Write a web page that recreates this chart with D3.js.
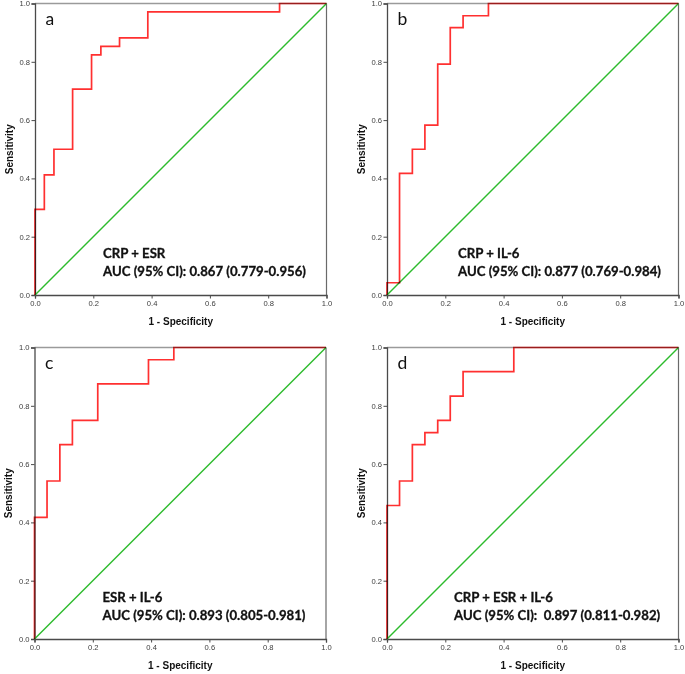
<!DOCTYPE html>
<html>
<head>
<meta charset="utf-8">
<script src="https://cdn.jsdelivr.net/npm/d3@7"></script>
<style>
  html, body { margin: 0; padding: 0; background: #fff; }
  svg { display: block; }
</style>
</head>
<body>
<svg id="chart" width="685" height="674"></svg>
<script>
// ---- Data ----
const panelIds = ["a", "b", "c", "d"];
const markers = ["CRP + ESR", "CRP + IL-6", "ESR + IL-6", "CRP + ESR + IL-6"];
const aucTexts = [
  "AUC (95% CI): 0.867 (0.779-0.956)",
  "AUC (95% CI): 0.877 (0.769-0.984)",
  "AUC (95% CI): 0.893 (0.805-0.981)",
  "AUC (95% CI):  0.897 (0.811-0.982)"
];
const tickValues = [0, 0.2, 0.4, 0.6, 0.8, 1.0];
const xTitle = "1 - Specificity";
const yTitle = "Sensitivity";

// ROC step points: 1 - specificity (fpr) and sensitivity (tpr)
const fprA = [0, 0, 0.032, 0.032, 0.065, 0.065, 0.129, 0.129, 0.194, 0.194, 0.226, 0.226, 0.290, 0.290, 0.387, 0.387, 0.839, 0.839, 1];
const tprA = [0, 0.294, 0.294, 0.412, 0.412, 0.5, 0.5, 0.706, 0.706, 0.824, 0.824, 0.853, 0.853, 0.882, 0.882, 0.971, 0.971, 1, 1];

const fprB = [0, 0, 0.043, 0.043, 0.087, 0.087, 0.130, 0.130, 0.174, 0.174, 0.217, 0.217, 0.261, 0.261, 0.348, 0.348, 1];
const tprB = [0, 0.042, 0.042, 0.417, 0.417, 0.5, 0.5, 0.583, 0.583, 0.792, 0.792, 0.917, 0.917, 0.958, 0.958, 1, 1];

const fprC = [0, 0, 0.043, 0.043, 0.087, 0.087, 0.130, 0.130, 0.217, 0.217, 0.391, 0.391, 0.478, 0.478, 1];
const tprC = [0, 0.417, 0.417, 0.542, 0.542, 0.667, 0.667, 0.750, 0.750, 0.875, 0.875, 0.958, 0.958, 1, 1];

const fprD = [0, 0, 0.043, 0.043, 0.087, 0.087, 0.130, 0.130, 0.174, 0.174, 0.217, 0.217, 0.261, 0.261, 0.435, 0.435, 1];
const tprD = [0, 0.458, 0.458, 0.542, 0.542, 0.667, 0.667, 0.708, 0.708, 0.750, 0.750, 0.833, 0.833, 0.917, 0.917, 1, 1];

const refFpr = [0, 1];
const refTpr = [0, 1];

const curves = [[fprA, tprA], [fprB, tprB], [fprC, tprC], [fprD, tprD]];

// ---- Layout ----
const svg = d3.select("#chart");
const W = 291.5, H = 291.5;
const origins = [[35, 3.5], [387, 3.5], [34.5, 347.5], [387, 347.5]];

const red = "#ff3030";
const green = "#2dbb2d";
const axisColor = "#4a4a4a";
const tickFont = "'Liberation Sans', Arial, sans-serif";
const annFont = "Lato, 'Open Sans', sans-serif";

panelIds.forEach((id, i) => {
  const [ox, oy] = origins[i];
  const g = svg.append("g").attr("transform", `translate(${ox},${oy})`);
  const x = d3.scaleLinear().domain([0, 1]).range([0, W]);
  const y = d3.scaleLinear().domain([0, 1]).range([H, 0]);

  // frame (top and right)
  g.append("line").attr("x1", 0).attr("x2", W).attr("y1", 0).attr("y2", 0)
    .attr("stroke", "#9a9a9a").attr("stroke-width", 1.3);
  g.append("line").attr("x1", W).attr("x2", W).attr("y1", 0).attr("y2", H)
    .attr("stroke", "#6a6a6a").attr("stroke-width", 1.2);

  // axes
  const xAxis = d3.axisBottom(x).tickValues(tickValues).tickFormat(d3.format(".1f")).tickSize(3.5).tickPadding(2);
  const yAxis = d3.axisLeft(y).tickValues(tickValues).tickFormat(d3.format(".1f")).tickSize(3.5).tickPadding(1.5);
  const gx = g.append("g").attr("transform", `translate(0,${H})`).call(xAxis);
  const gy = g.append("g").call(yAxis);
  [gx, gy].forEach(ax => {
    ax.select(".domain").attr("stroke", axisColor).attr("stroke-width", 1.3);
    ax.selectAll(".tick line").attr("stroke", axisColor).attr("stroke-width", 1);
    ax.selectAll(".tick text").attr("fill", "#3c3c3c").style("font-family", tickFont).style("font-size", "7.6px");
  });

  // reference diagonal
  const line = d3.line().x(d => x(d[0])).y(d => y(d[1]));
  g.append("path").datum(refFpr.map((v, k) => [v, refTpr[k]]))
    .attr("d", line).attr("fill", "none").attr("stroke", green).attr("stroke-width", 1.4);

  // ROC curve
  const [fpr, tpr] = curves[i];
  g.append("path").datum(fpr.map((v, k) => [v, tpr[k]]))
    .attr("d", line).attr("fill", "none").attr("stroke", red).attr("stroke-width", 1.7)
    .style("mix-blend-mode", "multiply");

  // panel letter
  g.append("text").attr("x", 10.5).attr("y", 21.5).text(id)
    .style("font-family", annFont).style("font-size", "17.5px").attr("fill", "#111");

  // annotation
  const ann = g.append("text").style("font-family", annFont).style("font-weight", "bold")
    .style("font-size", "13.2px").attr("fill", "#111")
    .attr("stroke", "#111").attr("stroke-width", 0.3);
  const tx = [68, 71, 68, 67][i];
  ann.append("tspan").attr("x", tx).attr("y", 254).text(markers[i]);
  ann.append("tspan").attr("x", tx).attr("y", 272).attr("xml:space", "preserve").style("white-space", "pre").text(aucTexts[i]);

  // axis titles
  g.append("text").attr("x", W / 2).attr("y", H + 29.5).attr("text-anchor", "middle")
    .style("font-family", tickFont).style("font-weight", "bold").style("font-size", "10px")
    .attr("fill", "#111").text(xTitle);
  g.append("text").attr("transform", `translate(-22.5,${H / 2}) rotate(-90)`).attr("text-anchor", "middle")
    .style("font-family", tickFont).style("font-weight", "bold").style("font-size", "10px")
    .attr("fill", "#111").text(yTitle);
});
</script>
</body>
</html>
